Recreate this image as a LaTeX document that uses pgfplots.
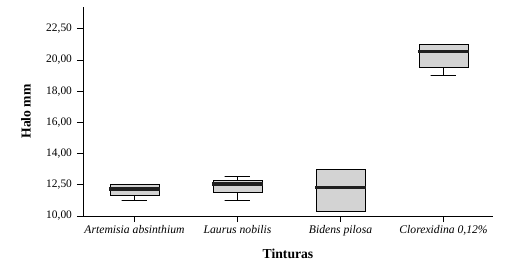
\documentclass[border=0pt]{standalone}
\usepackage{fontspec}
\setmainfont{Liberation Serif}
\usepackage{pgfplots}
\pgfplotsset{compat=1.18}
\definecolor{boxgray}{RGB}{211,211,211}
\begin{document}
\begin{tikzpicture}
\begin{axis}[
  scale only axis, width=410bp, height=209bp,
  xmin=0.5, xmax=4.48, ymin=10, ymax=23.4,
  axis lines*=left,
  axis line style={line width=0.8pt},
  ytick={10,12,14,16,18,20,22},
  yticklabels={{10,00},{12,50},{14,00},{16,00},{18,00},{20,00},{22,50}},
  xtick={1,2,3,4},
  xticklabels={Artemisia absinthium, Laurus nobilis, Bidens pilosa, {Clorexidina 0,12\%}},
  tick align=outside, major tick length=6bp,
  tick style={line width=0.8pt, black},
  yticklabel style={font=\fontsize{11.5}{14}\selectfont, xshift=-1.5bp},
  xticklabel style={font=\fontsize{11.7}{14}\selectfont\itshape},
  every axis y label/.style={at={(axis description cs:0,0.5)}, xshift=-57bp, rotate=90, anchor=center, font=\fontsize{13.7}{16}\selectfont\bfseries},
  every axis x label/.style={at={(axis description cs:0.5,0)}, yshift=-38bp, anchor=center, font=\fontsize{13.7}{16}\selectfont\bfseries},
  xlabel={Tinturas}, ylabel={Halo mm},
  clip=false,
  boxs/.style={draw=black, fill=boxgray, line width=0.8pt, line join=miter, line cap=rect, mark=none},
  whisk/.style={draw=black, line width=0.8pt, mark=none},
  med/.style={draw=black!88, line width=3.6bp, mark=none},
]
% Artemisia absinthium: lw 11.00, q1 11.33, med 11.75, q3 12.03, uw 12.03
\addplot[whisk] coordinates {(1,11.33) (1,11.00) (0.875,11.00) (1.125,11.00)};
\addplot[boxs] coordinates {(0.7625,11.33) (1.2375,11.33) (1.2375,12.03) (0.7625,12.03) (0.7625,11.33)};
\addplot[med] coordinates {(0.7525,11.75) (1.2475,11.75)};
% Laurus nobilis: lw 11.00, q1 11.52, med 12.07, q3 12.29, uw 12.55
\addplot[whisk] coordinates {(2,11.52) (2,11.00) (1.875,11.00) (2.125,11.00)};
\addplot[whisk] coordinates {(2,12.29) (2,12.55) (1.875,12.55) (2.125,12.55)};
\addplot[boxs] coordinates {(1.7625,11.52) (2.2375,11.52) (2.2375,12.29) (1.7625,12.29) (1.7625,11.52)};
\addplot[med] coordinates {(1.7525,12.07) (2.2475,12.07)};
% Bidens pilosa: lw 10.30, q1 10.30, med 11.82, q3 13.00, uw 13.00
\addplot[boxs] coordinates {(2.7625,10.30) (3.2375,10.30) (3.2375,13.00) (2.7625,13.00) (2.7625,10.30)};
\addplot[med] coordinates {(2.7525,11.82) (3.2475,11.82)};
% Clorexidina 0,12%: lw 19.03, q1 19.54, med 20.55, q3 21.02, uw 21.02
\addplot[whisk] coordinates {(4,19.54) (4,19.03) (3.875,19.03) (4.125,19.03)};
\addplot[boxs] coordinates {(3.7625,19.54) (4.2375,19.54) (4.2375,21.02) (3.7625,21.02) (3.7625,19.54)};
\addplot[med] coordinates {(3.7525,20.55) (4.2475,20.55)};
\coordinate (o) at (rel axis cs:0,0);
\end{axis}
\pgfresetboundingbox
\path (o) ++(-83bp,-50bp) rectangle ++(512bp,266bp);
\end{tikzpicture}
\end{document}
